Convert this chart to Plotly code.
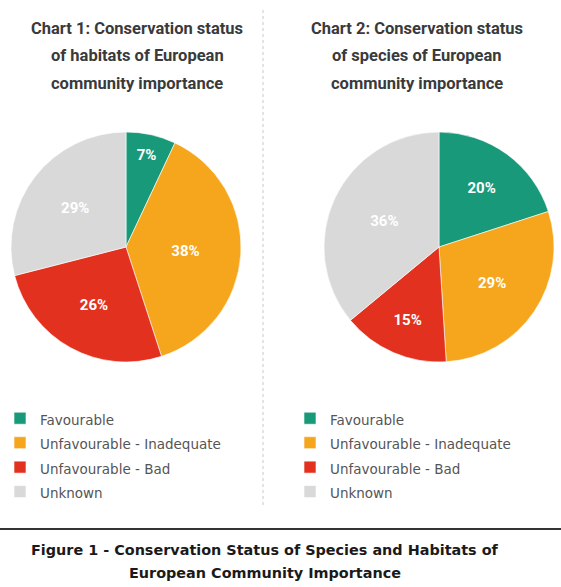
import plotly.graph_objects as go

LABELS = ["Favourable", "Unfavourable - Inadequate", "Unfavourable - Bad", "Unknown"]
COLORS = ["#17997a", "#f5a61d", "#e2321f", "#d9d9d9"]
HABITATS = [7, 38, 26, 29]
SPECIES = [20, 29, 15, 36]
TITLE1 = ["Chart 1: Conservation status", "of habitats of European", "community importance"]
TITLE2 = ["Chart 2: Conservation status", "of species of European", "community importance"]
CAPTION = ["Figure 1 - Conservation Status of Species and Habitats of", "European Community Importance"]

W, H = 561, 587

def px(x):
    return x / W

def py(y):
    return 1 - y / H

labels1 = ['<span style="font-size:13.5px">%s</span>' % l for l in LABELS]
labels2 = ['<span style="font-size:13.5px;color:#555555">%s</span>' % l for l in LABELS]

def pie(labels, values, dom_x, legend):
    return go.Pie(
        labels=labels, values=values, sort=False, direction="clockwise", rotation=0,
        marker=dict(colors=COLORS, line=dict(color="white", width=0.6)),
        texttemplate="%{value}%", textposition="inside", insidetextorientation="horizontal",
        insidetextfont=dict(color="white", size=15, family="Roboto", weight="bold"),
        domain=dict(x=dom_x, y=[py(362), py(132)]), legend=legend, hoverinfo="value",
    )

fig = go.Figure()
fig.add_trace(pie(labels1, HABITATS, [px(11), px(241)], "legend"))
fig.add_trace(pie(labels2, SPECIES, [px(323), px(555)], "legend2"))

legend_style = dict(font=dict(size=16.5, family="DejaVu Sans", color="#555555"),
                    bgcolor="rgba(0,0,0,0)", yanchor="top", xanchor="left", traceorder="normal")
fig.update_layout(
    width=W, height=H, margin=dict(l=0, r=0, t=0, b=0),
    paper_bgcolor="white", plot_bgcolor="white",
    legend=dict(x=px(0), y=py(401), **legend_style),
    legend2=dict(x=px(290), y=py(401), **legend_style),
    showlegend=True,
)

tfont = dict(family="Roboto", size=16.5, color="#3a3a3a", weight="bold")
for lines, x in [(TITLE1, 137), (TITLE2, 417)]:
    for i, t in enumerate(lines):
        fig.add_annotation(text=t, x=px(x), y=py(28 + 27.5 * i), xref="paper", yref="paper",
                           xanchor="center", yanchor="middle", showarrow=False, font=tfont)

for i, t in enumerate(CAPTION):
    fig.add_annotation(text=t, x=px(265), y=py(550 + 23 * i), xref="paper", yref="paper",
                       xanchor="center", yanchor="middle", showarrow=False,
                       font=dict(family="DejaVu Sans", size=14.4, color="#1a1a1a", weight="bold"))

fig.add_shape(type="line", xref="paper", yref="paper", x0=px(263), x1=px(263), y0=py(10), y1=py(505),
              line=dict(color="#c8c8c8", width=1, dash="dot"))
fig.add_shape(type="line", xref="paper", yref="paper", x0=0, x1=1, y0=py(529), y1=py(529),
              line=dict(color="#333333", width=2))

fig.write_html("out.html", config={"displayModeBar": False},
               post_script="document.body.style.margin='0';")
